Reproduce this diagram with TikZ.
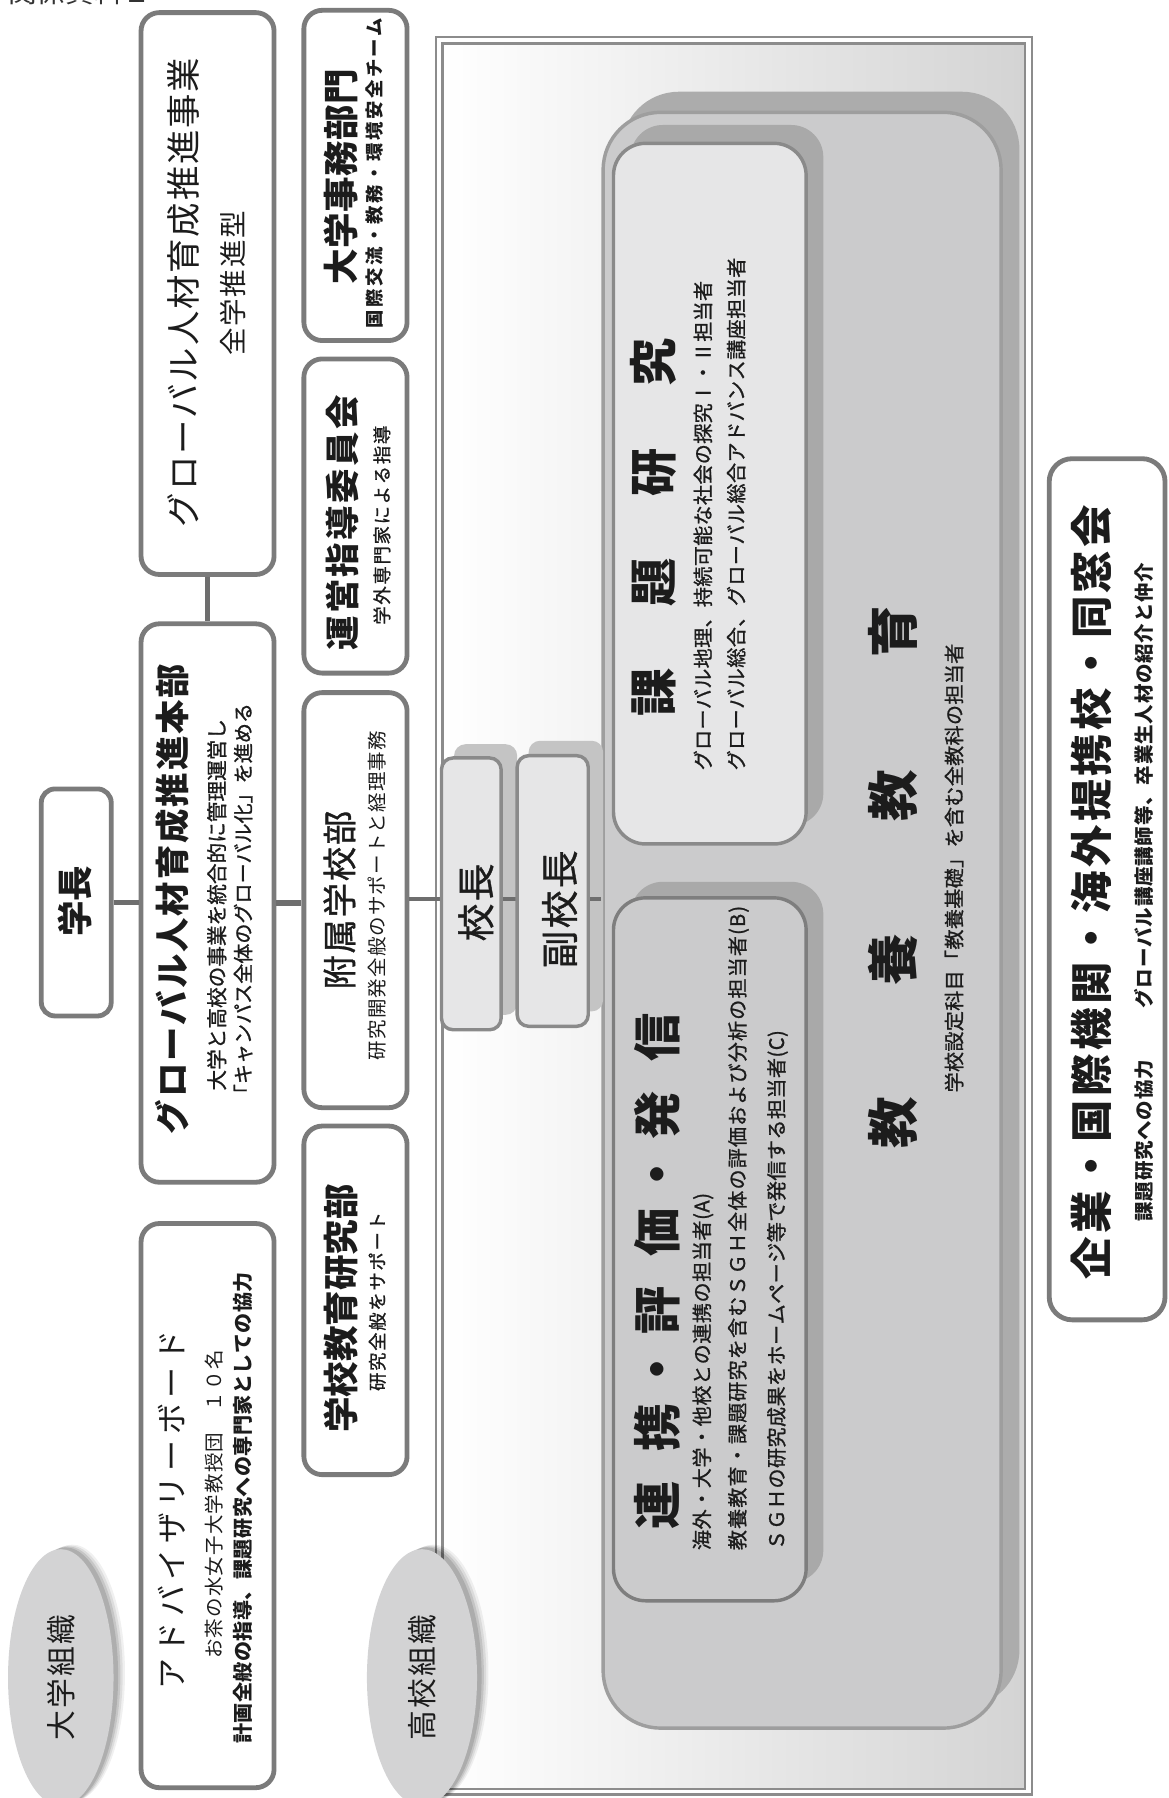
\documentclass[tikz,border=0pt]{standalone}
\usepackage{fontspec}
\setmainfont{Noto Sans CJK JP}
\newfontfamily\jpmed[FakeBold=1]{Noto Sans CJK JP}
\usetikzlibrary{shapes.geometric}
\definecolor{bord}{HTML}{7B7B7B}
\definecolor{connc}{HTML}{6E6E6E}
\definecolor{cfill}{HTML}{CBCBCC}
\definecolor{cbord}{HTML}{9E9E9E}
\definecolor{cshadow}{HTML}{ACACAC}
\definecolor{lightbox}{HTML}{E6E6E7}
\definecolor{ibord}{HTML}{8A8A8A}
\definecolor{rbord}{HTML}{7E7E7E}
\definecolor{ishadow}{HTML}{A9A9A9}
\definecolor{sshadow}{HTML}{C4C4C4}
\definecolor{ellfill}{HTML}{D3D3D4}
\definecolor{frameline}{HTML}{8C8C8C}
\definecolor{ink}{HTML}{1C1C1C}
\newcommand\fs[1]{\fontsize{#1}{#1}\selectfont}
\makeatletter
\def\LS@end{\LS@end}
\newcommand\LS[2]{\def\LS@k{#1}\LS@first#2\LS@end}
\def\LS@first#1{#1\LS@next}
\def\LS@next#1{\ifx\LS@end#1\else\hspace{\LS@k}#1\expandafter\LS@next\fi}
\makeatother
\newcommand\ND{\makebox[8pt][c]{・}}
\tikzset{
  obox/.style={draw=bord, line width=4.2pt, rounded corners=16pt, fill=white, inner sep=0pt},
  ibox/.style={draw=ibord, line width=3pt, rounded corners=28pt, inner sep=0pt},
  sbox/.style={draw=ibord, line width=3pt, rounded corners=10pt, fill=lightbox, inner sep=0pt},
  rt/.style={rotate=90, inner sep=0pt, text=ink},
  cline/.style={draw=connc, line width=4.5pt},
  cline2/.style={draw=connc, line width=3.5pt},
  ell/.style={ellipse, fill=ellfill, inner sep=0pt, rotate=90, text=ink}
}
\begin{document}
\begin{tikzpicture}[x=1pt,y=-1pt]
\useasboundingbox (0,0) rectangle (1019,1568);
\node[anchor=base west, inner sep=0pt, font=\fs{25}, text=black!80] (shiryo) at (7,2) {関係資料１};

% frame
\shade[left color=white, right color=black!17] (386,38) rectangle (894,1560);
\draw[frameline, line width=2pt] (380,32) rectangle (900,1565);
\draw[frameline, line width=2pt] (386,38) rectangle (894,1560);

% container
\fill[cshadow, rounded corners=50pt] (542,80) rectangle (889,1489);
\node[draw=cbord, fill=cfill, line width=3pt, rounded corners=50pt, minimum width=347pt, minimum height=1409pt, inner sep=0pt] (cont) at (699.5,802.5) {};

% inner boxes
\fill[ishadow, rounded corners=28pt] (550,109) rectangle (718,720);
\node[ibox, fill=lightbox, minimum width=168pt, minimum height=611pt] (kadai) at (619,430.5) {};
\fill[ishadow, rounded corners=28pt] (550,769) rectangle (718,1380);
\node[ibox, fill=cfill, draw=rbord, minimum width=168pt, minimum height=613pt] (renkei) at (619,1089.5) {};

% principal boxes
\fill[sshadow, rounded corners=10pt] (396,649) rectangle (451,885);
\fill[sshadow, rounded corners=10pt] (461,646) rectangle (526,882);

% outer boxes
\node[obox, minimum width=116pt, minimum height=490pt] (jigyo) at (181,256) {};
\node[obox, minimum width=116pt, minimum height=487pt] (honbu) at (181,787.5) {};
\node[obox, minimum width=116pt, minimum height=492pt] (adv) at (181,1313) {};
\node[obox, rounded corners=12pt, minimum width=61pt, minimum height=198pt] (gakucho) at (66.5,787) {};
\node[obox, minimum width=90pt, minimum height=288pt] (jimu) at (310,153) {};
\node[obox, minimum width=90pt, minimum height=274pt] (unei) at (310,450) {};
\node[obox, minimum width=90pt, minimum height=362pt] (fuzoku) at (310,785) {};
\node[obox, minimum width=90pt, minimum height=304pt] (gakko) at (310,1134) {};
\node[obox, rounded corners=20pt, minimum width=101pt, minimum height=751pt] (kigyo) at (965.5,775.5) {};

% connectors
\coordinate (ly) at (0,784);
\draw[cline] (jigyo.south) -- (honbu.north);
\draw[cline] (gakucho.east) -- (gakucho.east -| honbu.west);
\draw[cline] (honbu.east) -- (honbu.east -| fuzoku.west);
\draw[cline2] (fuzoku.east |- ly) -- (400,784);
\draw[cline2] (437,784) -- (452,784);
\draw[cline2] (512,784) -- (cont.west |- ly);

\node[sbox, minimum width=52pt, minimum height=237pt] (kocho) at (411,779.5) {};
\node[sbox, minimum width=62pt, minimum height=236pt] (fuku) at (482,777) {};

% ellipses
\foreach \d/\o in {10/0.06, 8/0.08, 6/0.10, 4/0.12} {
  \fill[black, opacity=\o] (53+\d,1463-\d*0.4) ellipse (46pt and 112pt);
  \fill[black, opacity=\o] (368+\d,1463-\d*0.4) ellipse (48pt and 112pt);
}
\node[ell, minimum width=224pt, minimum height=92pt, font=\fs{26}] (daigakuE) at (53,1463) {\LS{2pt}{大学組織}};
\node[ell, minimum width=224pt, minimum height=96pt, font=\fs{26}] (kokoE) at (368,1463) {\LS{2pt}{高校組織}};

% texts
\node[rt, font=\fs{30}] (jigyoT) at (160,255) {\LS{1.6pt}{グローバル人材育成推進事業}};
\node[rt, font=\fs{24}] (jigyoS) at (203,247) {\LS{1.7pt}{全学推進型}};
\node[rt, font=\bfseries\fs{31}] (jimuT) at (297,154) {\LS{0.4pt}{大学事務部門}};
\node[rt, font=\bfseries\fs{16}] (jimuS) at (327,151) {\LS{2.2pt}{国際交流・教務・環境安全チーム}};
\node[rt, font=\bfseries\fs{30}] (uneiT) at (299,456) {\LS{2.2pt}{運営指導委員会}};
\node[rt, font=\jpmed\fs{16}] (uneiS) at (333,458) {\LS{1.5pt}{学外専門家による指導}};
\node[rt, font=\jpmed\fs{30}] (fuzokuT) at (296,785) {\LS{1.5pt}{附属学校部}};
\node[rt, font=\fs{17}] (fuzokuS) at (329,781) {\LS{1pt}{研究開発全般のサポートと経理事務}};
\node[rt, font=\bfseries\fs{31}] (gakuchoT) at (65,786) {学長};
\node[rt, font=\bfseries\fs{30}] (honbuT) at (150,784) {\LS{1.7pt}{グローバル人材育成推進本部}};
\node[rt, font=\jpmed\fs{18}] (honbuS1) at (189,789) {大学と高校の事業を統合的に管理運営し};
\node[rt, font=\jpmed\fs{17.5}] (honbuS2) at (212,788) {「キャンパス全体のグローバル化」を進める};
\node[rt, font=\bfseries\fs{31}] (gakkoT) at (297,1141) {学校教育研究部};
\node[rt, font=\jpmed\fs{16}] (gakkoS) at (329,1135) {\LS{1.5pt}{研究全般をサポート}};
\node[rt, font=\fs{27}] (advT) at (150,1317) {\LS{4.8pt}{アドバイザリーボード}};
\node[rt, font=\fs{17}] (advS1) at (187,1312) {\LS{1pt}{お茶の水女子大学教授団　１０名}};
\node[rt, font=\bfseries\fs{17.5}] (advS2) at (212,1315) {\LS{0.4pt}{計画全般の指導、課題研究への専門家としての協力}};
\node[rt, font=\jpmed\fs{33}] (kochoT) at (415,787) {\LS{2pt}{校長}};
\node[rt, font=\jpmed\fs{33}] (fukuT) at (488,793) {\LS{2pt}{副校長}};

\node[rt, anchor=west, font=\bfseries\fs{42}] (kadaiT) at (570,625) {\LS{54pt}{課題研究}};
\node[rt, anchor=west, font=\jpmed\fs{17.5}] (kadaiS1) at (613,672) {\LS{0.3pt}{グローバル地理、持続可能な社会の探究Ⅰ・Ⅱ担当者}};
\node[rt, anchor=west, font=\jpmed\fs{17.5}] (kadaiS2) at (642,672) {\LS{0.4pt}{グローバル総合、グローバル総合アドバンス講座担当者}};

\node[rt, anchor=west, font=\bfseries\fs{42}] (renkeiT) at (573,1334) {連\hspace{26pt}携\hspace{26pt}\ND\hspace{26pt}評\hspace{26pt}価\hspace{26pt}\ND\hspace{26pt}発\hspace{26pt}信};
\node[rt, anchor=west, font=\jpmed\fs{17.5}] (renkeiS1) at (613,1352) {\LS{0.5pt}{海外・大学・他校との連携の担当者(A)}};
\node[rt, anchor=west, font=\jpmed\fs{17.5}] (renkeiS2) at (644,1352) {\LS{1pt}{教養教育・課題研究を含むＳＧＨ全体の評価および分析の担当者(B)}};
\node[rt, anchor=west, font=\jpmed\fs{17.5}] (renkeiS3) at (678,1352) {\LS{0.4pt}{ＳＧＨの研究成果をホームページ等で発信する担当者(C)}};

\node[rt, font=\bfseries\fs{45}] (kyoyoT) at (779,765) {\LS{98pt}{教養教育}};
\node[rt, font=\jpmed\fs{17.5}] (kyoyoS) at (832,757) {\LS{0.3pt}{学校設定科目「教養基礎」を含む全教科の担当者}};

\node[rt, font=\bfseries\fs{37}] (kigyoT) at (952,778) {\LS{2.9pt}{企業・国際機関・海外提携校・同窓会}};
\node[rt, font=\bfseries\fs{17}] (kigyoS) at (998,778) {\LS{0.7pt}{課題研究への協力}\hspace{45pt}\LS{0.7pt}{グローバル講座講師等、卒業生人材の紹介と仲介}};
\end{tikzpicture}
\end{document}
